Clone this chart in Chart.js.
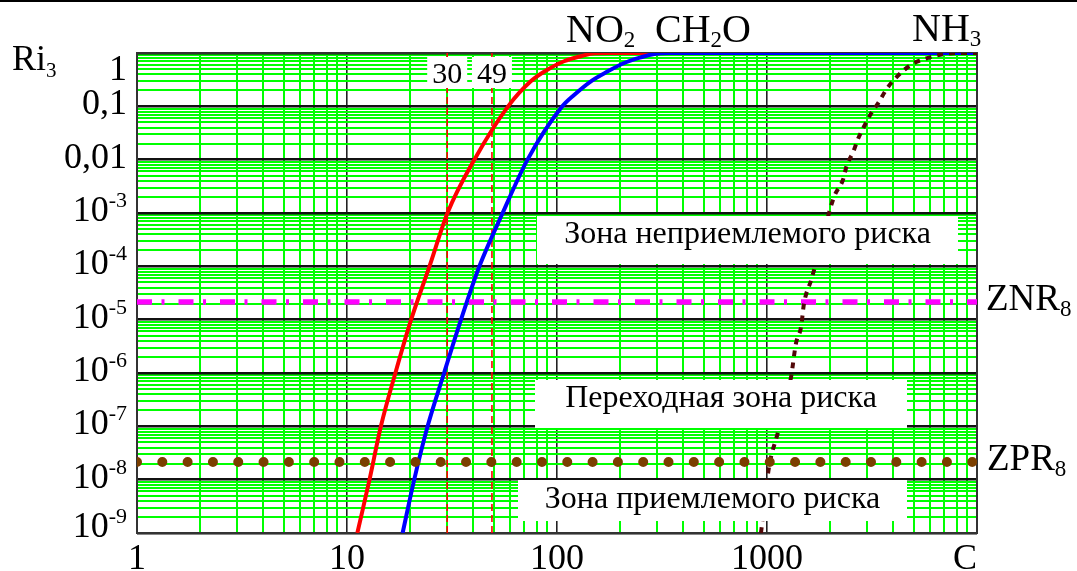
<!DOCTYPE html>
<html>
<head>
<meta charset="utf-8">
<script src="https://cdn.jsdelivr.net/npm/chart.js@4.4.1/dist/chart.umd.min.js"></script>
<style>
  html, body { margin: 0; padding: 0; background: #fff; }
  #wrap { width: 1077px; height: 571px; position: relative; }
</style>
</head>
<body>
<div id="wrap"><canvas id="riskChart"></canvas></div>
<script>
// Risk curves Ri3 vs concentration C
const NO2_C = [11.2, 12.8, 14.5, 17.0, 20.2, 24.7, 30.1, 40.4, 58.5, 75, 90, 108, 130, 151, 175, 10000];
const NO2_R = [1e-9, 1e-8, 1e-7, 1e-6, 1e-5, 1e-4, 1e-3, 1e-2, 0.1, 0.295, 0.486, 0.70, 0.87, 0.99, 1, 1];

const CH2O_C = [18.4, 20.9, 24.2, 29.0, 34.9, 42.7, 55.1, 72.4, 106, 121, 145, 174, 209, 251, 290, 340, 10000];
const CH2O_R = [1e-9, 1e-8, 1e-7, 1e-6, 1e-5, 1e-4, 1e-3, 1e-2, 0.1, 0.165, 0.295, 0.45, 0.65, 0.83, 0.96, 1, 1];

const NH3_C = [936, 1022, 1128, 1301, 1374, 1452, 1500, 1622, 1712, 2084, 2301, 2400, 2570, 2700, 2890, 3100, 3410, 3690, 4030, 4490, 5010, 5850, 6880, 8100, 10000];
const NH3_R = [1e-9, 1.7e-8, 7.8e-8, 8.3e-7, 3.6e-6, 7.2e-6, 2.0e-5, 5.5e-5, 1.15e-4, 2e-3, 4.2e-3, 7.9e-3, 0.0138, 0.0234, 0.041, 0.069, 0.12, 0.204, 0.316, 0.479, 0.646, 0.81, 0.95, 1, 1];

// zone borders
const ZNR_8 = 2.15e-5;
const ZPR_8 = 2.15e-8;

// marked concentrations
const MARKS_C = [30, 49];

const X_MIN = 1, X_MAX = 10000;
const Y_MIN = 1e-9, Y_MAX = 1;
const X_TICKS = [1, 10, 100, 1000];
const X_LABELS = ['1', '10', '100', '1000'];
const Y_TICKS = [1e-9, 1e-8, 1e-7, 1e-6, 1e-5, 1e-4, 1e-3, 1e-2, 0.1, 1];
const Y_LABELS = ['10^-9', '10^-8', '10^-7', '10^-6', '10^-5', '10^-4', '10^-3', '0,01', '0,1', '1'];

const SERIF = '"Liberation Serif", "Times New Roman", serif';

const pts = (xs, ys) => xs.map((x, i) => ({ x: x, y: ys[i] }));

// 1..9 per decade, decade lines flagged as major
function logTicks(min, max) {
  const ticks = [];
  const e0 = Math.round(Math.log10(min));
  const e1 = Math.round(Math.log10(max));
  for (let e = e0; e < e1; e++) {
    for (let m = 1; m < 10; m++) {
      ticks.push({ value: m * Math.pow(10, e), major: m === 1 });
    }
  }
  ticks.push({ value: max, major: true });
  return ticks;
}

// text with sub/superscripts: parts = [[text, size, dy]]
function drawRich(ctx, x, y, parts, align) {
  let w = 0;
  parts.forEach(p => {
    ctx.font = p[1] + 'px ' + SERIF;
    w += ctx.measureText(p[0]).width;
  });
  let cx = align === 'right' ? x - w : (align === 'center' ? x - w / 2 : x);
  ctx.textAlign = 'left';
  ctx.textBaseline = 'alphabetic';
  parts.forEach(p => {
    ctx.font = p[1] + 'px ' + SERIF;
    ctx.fillText(p[0], cx, y + (p[2] || 0));
    cx += ctx.measureText(p[0]).width;
  });
}

function powParts(label, size, supSize) {
  const bits = label.split('^');
  if (bits.length === 1) return [[label, size]];
  return [[bits[0], size], [bits[1], supSize, -14]];
}

const decor = {
  id: 'decor',
  beforeDatasetsDraw(chart) {
    const { ctx, chartArea: a } = chart;
    ctx.save();
    ctx.strokeStyle = '#333';
    ctx.lineWidth = 2;
    ctx.strokeRect(a.left, a.top, a.right - a.left, a.bottom - a.top);
    ctx.restore();
  },
  afterDatasetsDraw(chart) {
    const { ctx } = chart;
    const xs = chart.scales.x;
    ctx.save();
    // zone captions on white boxes
    const zones = [
      { box: [537, 216, 421, 48], text: 'Зона неприемлемого риска', base: 243 },
      { box: [535, 380, 372, 48], text: 'Переходная зона риска', base: 407 },
      { box: [518, 480, 389, 41], text: 'Зона приемлемого риска', base: 508 }
    ];
    zones.forEach(z => {
      ctx.fillStyle = '#fff';
      ctx.fillRect(z.box[0], z.box[1], z.box[2], z.box[3]);
      ctx.fillStyle = '#000';
      drawRich(ctx, z.box[0] + z.box[2] / 2, z.base, [[z.text, 32]], 'center');
    });
    // labels of the marked concentrations
    MARKS_C.forEach(c => {
      const px = xs.getPixelForValue(c);
      ctx.fillStyle = '#fff';
      ctx.fillRect(px - 20, 57, 40, 31);
      ctx.fillStyle = '#000';
      drawRich(ctx, px, 83, [[String(c), 30]], 'center');
    });
    ctx.restore();
  },
  afterDraw(chart) {
    const { ctx, chartArea: a } = chart;
    const xs = chart.scales.x, ys = chart.scales.y;
    ctx.save();
    ctx.fillStyle = '#000';
    ctx.fillRect(0, 0, chart.width, 2);

    Y_TICKS.forEach((v, i) => {
      const py = ys.getPixelForValue(v);
      const base = Math.min(Math.max(py + 8, 80), 537);
      drawRich(ctx, 127, base, powParts(Y_LABELS[i], 36, 22), 'right');
    });
    X_TICKS.forEach((v, i) => {
      drawRich(ctx, xs.getPixelForValue(v), 569, [[X_LABELS[i], 36]], 'center');
    });
    drawRich(ctx, a.right, 569, [['C', 36]], 'right');

    drawRich(ctx, 12, 70, [['Ri', 36], ['3', 21, 7]], 'left');
    drawRich(ctx, 566, 42, [['NO', 40], ['2', 23, 5]], 'left');
    drawRich(ctx, 655, 42, [['CH', 40], ['2', 23, 5], ['O', 40]], 'left');
    drawRich(ctx, 912, 41, [['NH', 40], ['3', 23, 5]], 'left');
    drawRich(ctx, 986, 310, [['ZNR', 37], ['8', 23, 6]], 'left');
    drawRich(ctx, 987, 470, [['ZPR', 37], ['8', 23, 6]], 'left');
    ctx.restore();
  }
};

function gridFor(majorColor, majorWidth) {
  return {
    display: true,
    drawTicks: false,
    color: c => (c.tick && c.tick.major ? majorColor : '#00ff00'),
    lineWidth: c => (c.tick && c.tick.major ? majorWidth : 2)
  };
}

const datasets = [
  {
    label: 'ZPR8',
    data: pts([X_MIN, X_MAX], [ZPR_8, ZPR_8]),
    borderColor: '#7b3f00',
    borderWidth: 10,
    borderDash: [0.01, 25.3],
    borderCapStyle: 'round',
    order: 1
  },
  {
    label: 'NH3',
    data: pts(NH3_C, NH3_R),
    borderColor: '#520808',
    borderWidth: 4,
    borderDash: [6, 6],
    cubicInterpolationMode: 'monotone',
    order: 2
  },
  {
    label: 'ZNR8',
    data: pts([X_MIN, X_MAX], [ZNR_8, ZNR_8]),
    borderColor: '#ff00ff',
    borderWidth: 5.5,
    borderDash: [15, 9.5, 3, 14],
    order: 3
  },
  {
    label: 'CH2O',
    data: pts(CH2O_C, CH2O_R),
    borderColor: '#0000ff',
    borderWidth: 4,
    cubicInterpolationMode: 'monotone',
    order: 4
  },
  {
    label: 'NO2',
    data: pts(NO2_C, NO2_R),
    borderColor: '#ff0000',
    borderWidth: 4,
    cubicInterpolationMode: 'monotone',
    order: 5
  }
];

MARKS_C.forEach((c, i) => {
  datasets.push({
    label: 'C=' + c,
    data: pts([c, c], [Y_MIN, Y_MAX]),
    borderColor: '#ff0000',
    borderWidth: 1.6,
    borderDash: [7, 4],
    order: 6 + i
  });
});

new Chart(document.getElementById('riskChart'), {
  type: 'line',
  data: { datasets: datasets },
  options: {
    responsive: true,
    maintainAspectRatio: false,
    animation: false,
    layout: { padding: { left: 137, right: 100, top: 53, bottom: 38 } },
    elements: { point: { radius: 0 }, line: { fill: false } },
    plugins: {
      legend: { display: false },
      tooltip: { enabled: false }
    },
    scales: {
      x: {
        type: 'logarithmic',
        min: X_MIN,
        max: X_MAX,
        afterBuildTicks: axis => { axis.ticks = logTicks(X_MIN, X_MAX); },
        ticks: { display: false },
        border: { display: false },
        grid: gridFor('#222', 1.6)
      },
      y: {
        type: 'logarithmic',
        min: Y_MIN,
        max: Y_MAX,
        afterBuildTicks: axis => { axis.ticks = logTicks(Y_MIN, Y_MAX); },
        ticks: { display: false },
        border: { display: false },
        grid: gridFor('#111', 2.5)
      }
    }
  },
  plugins: [decor]
});
</script>
</body>
</html>
